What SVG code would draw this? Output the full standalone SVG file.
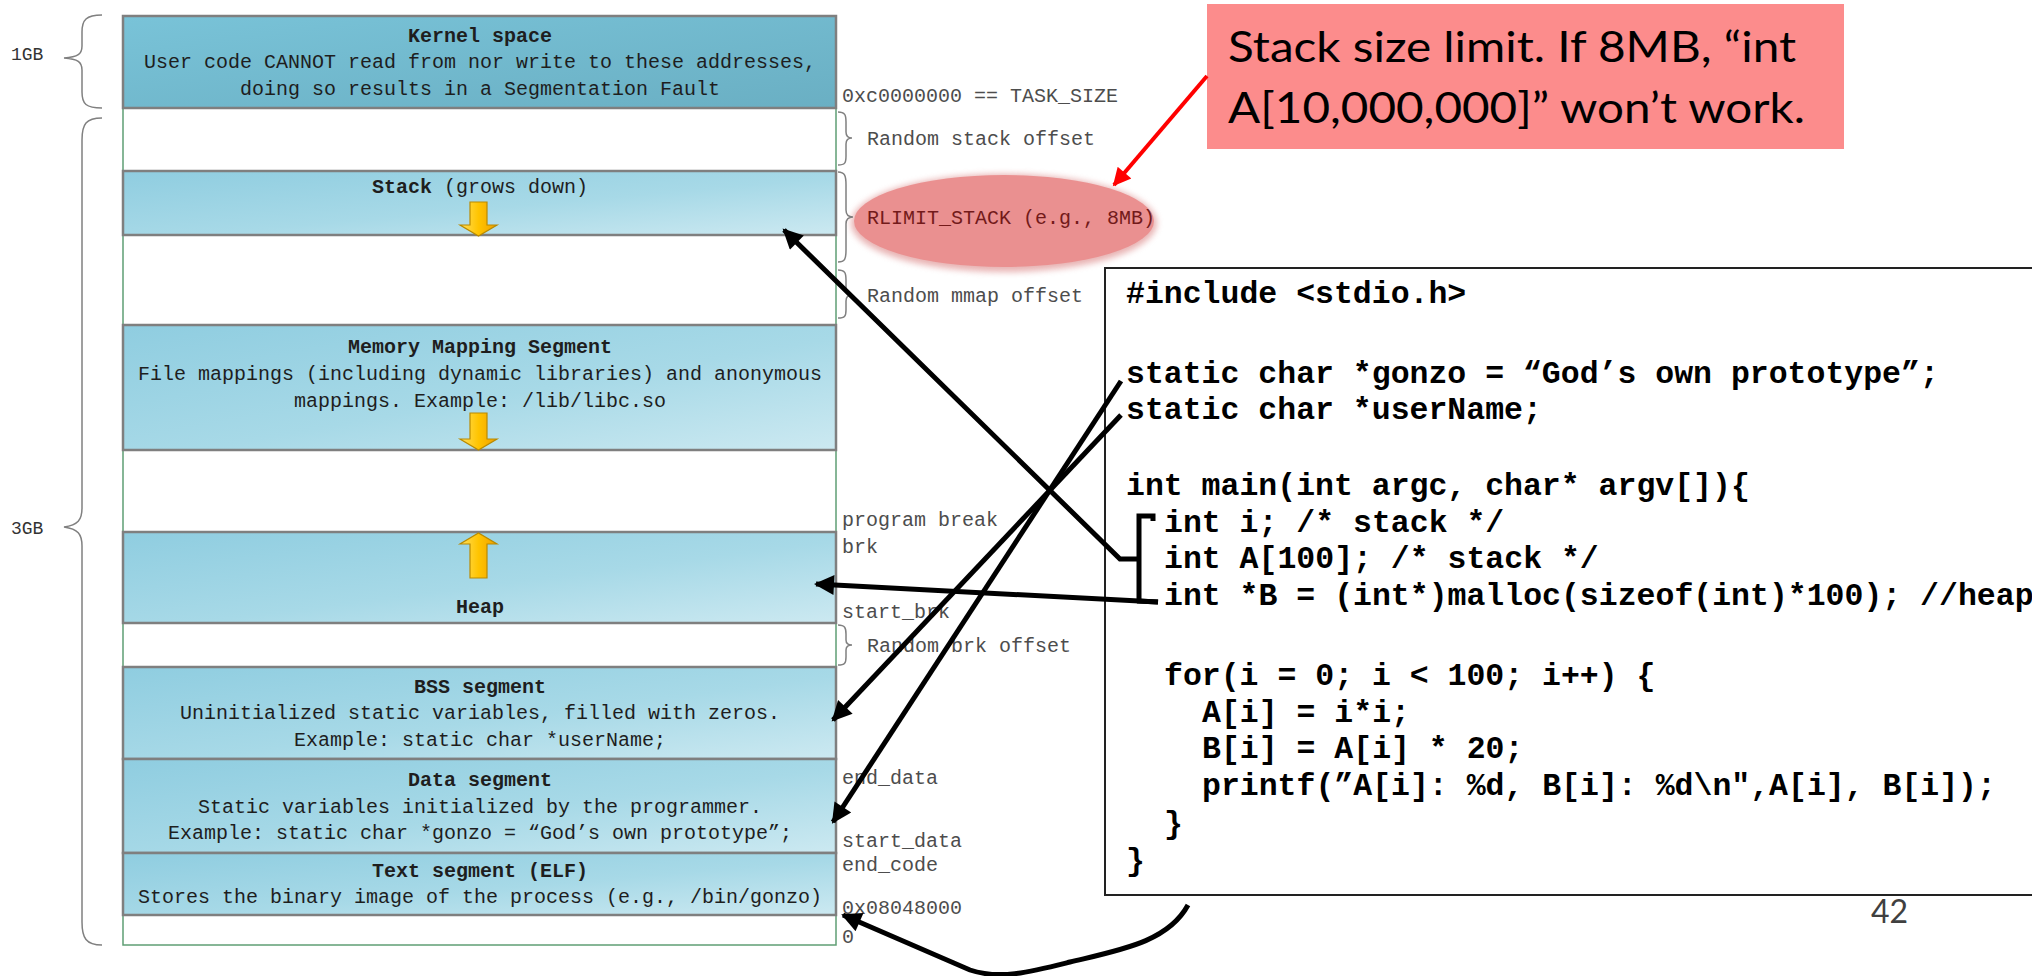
<svg xmlns="http://www.w3.org/2000/svg" width="2032" height="976" viewBox="0 0 2032 976">
<style>
.seg{stroke:#7f7f7f;stroke-width:2.5}
.t{font-family:"Liberation Mono",monospace;font-size:20px;fill:#1e1e1e;text-anchor:middle}
.b{font-weight:bold}
.lbl{font-family:"Liberation Mono",monospace;font-size:20px;fill:#4d4d4d}
.br{fill:none;stroke:#808080;stroke-width:1.5}
.code{font-family:"Liberation Mono",monospace;font-size:31.5px;font-weight:bold;fill:#000}
.con{fill:none;stroke:#000;stroke-width:5}
.ya{fill:url(#yel);stroke:#b98a00;stroke-width:1.2}
</style>
<defs>
<linearGradient id="seg" x1="0" y1="0" x2="1" y2="1">
<stop offset="0" stop-color="#8fcde0"/>
<stop offset="0.55" stop-color="#a7d9e7"/>
<stop offset="1" stop-color="#cce9f1"/>
</linearGradient>
<linearGradient id="ker" x1="0" y1="0" x2="1" y2="1">
<stop offset="0" stop-color="#79c3d8"/>
<stop offset="1" stop-color="#6aafc3"/>
</linearGradient>
<linearGradient id="yel" x1="0" y1="0" x2="1" y2="0">
<stop offset="0" stop-color="#ffe060"/>
<stop offset="0.5" stop-color="#ffc400"/>
<stop offset="1" stop-color="#f0a000"/>
</linearGradient>
<filter id="soft" x="-10%" y="-20%" width="120%" height="140%">
<feGaussianBlur stdDeviation="3"/>
</filter>
<marker id="ah" markerUnits="userSpaceOnUse" markerWidth="24" markerHeight="20" viewBox="0 0 10 10" refX="9" refY="5" orient="auto">
<path d="M0,0 L10,5 L0,10 z" fill="#000"/>
</marker>
<marker id="ahr" markerUnits="userSpaceOnUse" markerWidth="20" markerHeight="18" viewBox="0 0 10 10" refX="9" refY="5" orient="auto">
<path d="M0,0 L10,5 L0,10 z" fill="#f00"/>
</marker>
</defs>
<rect width="2032" height="976" fill="#fff"/>

<g id="braces-left">
<path class="br" d="M102,15 C86,15 82,20 82,32 L82,46 C82,54 78,57 64,58 C78,59 82,62 82,70 L82,92 C82,104 86,108 102,108"/>
<text x="11" y="60" font-family="Liberation Mono,monospace" font-size="18" fill="#333">1GB</text>
<path class="br" d="M102,118 C86,118 82,124 82,140 L82,508 C82,520 78,525 64,527 C78,529 82,534 82,546 L82,922 C82,938 86,945 102,945"/>
<text x="11" y="534" font-family="Liberation Mono,monospace" font-size="18" fill="#333">3GB</text>
</g>

<g id="gaps">
<rect x="123" y="108" width="713" height="837" fill="#fff" stroke="#5f9e74" stroke-width="1.5"/>
</g>

<g id="kernel">
<rect class="seg" x="123" y="16" width="713" height="92" fill="url(#ker)"/>
<text class="t b" x="480" y="42">Kernel space</text>
<text class="t" x="480" y="68">User code CANNOT read from nor write to these addresses,</text>
<text class="t" x="480" y="95">doing so results in a Segmentation Fault</text>
</g>

<g id="stack">
<rect class="seg" x="123" y="171" width="713" height="64" fill="url(#seg)"/>
<text class="t" x="480" y="193"><tspan class="b">Stack</tspan> (grows down)</text>
<path class="ya" d="M470,202 L487,202 L487,225 L497,225 L478.5,236 L460,225 L470,225 z"/>
</g>

<g id="mmap">
<rect class="seg" x="123" y="325" width="713" height="125" fill="url(#seg)"/>
<text class="t b" x="480" y="353">Memory Mapping Segment</text>
<text class="t" x="480" y="380">File mappings (including dynamic libraries) and anonymous</text>
<text class="t" x="480" y="407">mappings. Example: /lib/libc.so</text>
<path class="ya" d="M470,413 L487,413 L487,439 L497,439 L478.5,450 L460,439 L470,439 z"/>
</g>

<g id="heap">
<rect class="seg" x="123" y="532" width="713" height="91" fill="url(#seg)"/>
<path class="ya" d="M470,578 L487,578 L487,544 L497,544 L478.5,533 L460,544 L470,544 z"/>
<text class="t b" x="480" y="613">Heap</text>
</g>

<g id="bss">
<rect class="seg" x="123" y="667" width="713" height="92" fill="url(#seg)"/>
<text class="t b" x="480" y="693">BSS segment</text>
<text class="t" x="480" y="719">Uninitialized static variables, filled with zeros.</text>
<text class="t" x="480" y="746">Example: static char *userName;</text>
</g>

<g id="data">
<rect class="seg" x="123" y="759" width="713" height="94" fill="url(#seg)"/>
<text class="t b" x="480" y="786">Data segment</text>
<text class="t" x="480" y="813">Static variables initialized by the programmer.</text>
<text class="t" x="480" y="839">Example: static char *gonzo = “God’s own prototype”;</text>
</g>

<g id="text-seg">
<rect class="seg" x="123" y="853" width="713" height="62" fill="url(#seg)"/>
<text class="t b" x="480" y="877">Text segment (ELF)</text>
<text class="t" x="480" y="903">Stores the binary image of the process (e.g., /bin/gonzo)</text>
</g>

<g id="rlimit">
<ellipse cx="1004" cy="223" rx="153" ry="49" fill="#d98080" opacity="0.6" filter="url(#soft)"/>
<ellipse cx="1004" cy="221" rx="150" ry="46" fill="#ea9090"/>
</g>

<g id="labels-right">
<path class="br" d="M838,112 C845,112 846,115 846,122 L846,132 C846,136 848,138 852,138 C848,138 846,140 846,144 L846,156 C846,163 845,165 838,165"/>
<path class="br" d="M838,172 C845,172 846,176 846,185 L846,210 C846,215 848,217 853,217 C848,217 846,219 846,224 L846,250 C846,259 845,262 838,262"/>
<path class="br" d="M838,270 C845,270 846,273 846,280 L846,289 C846,293 848,295 852,295 C848,295 846,297 846,301 L846,310 C846,316 845,318 838,318"/>
<path class="br" d="M838,625 C845,625 846,628 846,634 L846,640 C846,643 848,645 852,645 C848,645 846,647 846,650 L846,657 C846,663 845,665 838,665"/>
<text class="lbl" x="842" y="102">0xc0000000 == TASK_SIZE</text>
<text class="lbl" x="867" y="145">Random stack offset</text>
<text class="lbl" x="867" y="224" style="fill:#731a1a">RLIMIT_STACK (e.g., 8MB)</text>
<text class="lbl" x="867" y="302">Random mmap offset</text>
<text class="lbl" x="842" y="526">program break</text>
<text class="lbl" x="842" y="553">brk</text>
<text class="lbl" x="842" y="618">start_brk</text>
<text class="lbl" x="867" y="652">Random brk offset</text>
<text class="lbl" x="842" y="784">end_data</text>
<text class="lbl" x="842" y="847">start_data</text>
<text class="lbl" x="842" y="871">end_code</text>
<text class="lbl" x="842" y="914">0x08048000</text>
<text class="lbl" x="842" y="943">0</text>
</g>

<g id="callout">
<rect x="1207" y="4" width="637" height="145" fill="#fc8c8c"/>
<text x="1228" y="62" font-family="Lato,'Open Sans',sans-serif" font-size="42" fill="#000" textLength="568" lengthAdjust="spacingAndGlyphs">Stack size limit. If 8MB, “int</text>
<text x="1228" y="123" font-family="Lato,'Open Sans',sans-serif" font-size="42" fill="#000" textLength="577" lengthAdjust="spacingAndGlyphs">A[10,000,000]” won’t work.</text>
</g>

<g id="code">
<path d="M2032,268 L1105,268 L1105,895 L2032,895" fill="#fff" stroke="#222" stroke-width="2"/>
<text class="code" x="1126" y="303">#include &lt;stdio.h&gt;</text>
<text class="code" x="1126" y="383">static char *gonzo = “God’s own prototype”;</text>
<text class="code" x="1126" y="419">static char *userName;</text>
<text class="code" x="1126" y="495">int main(int argc, char* argv[]){</text>
<text class="code" x="1164" y="532">int i; /* stack */</text>
<text class="code" x="1164" y="568">int A[100]; /* stack */</text>
<text class="code" x="1164" y="605">int *B = (int*)malloc(sizeof(int)*100); //heap</text>
<text class="code" x="1164" y="685">for(i = 0; i &lt; 100; i++) {</text>
<text class="code" x="1202" y="722">A[i] = i*i;</text>
<text class="code" x="1202" y="758">B[i] = A[i] * 20;</text>
<text class="code" x="1202" y="795">printf(”A[i]: %d, B[i]: %d\n",A[i], B[i]);</text>
<text class="code" x="1164" y="833">}</text>
<text class="code" x="1126" y="870">}</text>
</g>

<g id="page-number">
<text x="1871" y="923" font-family="Lato,'Open Sans',sans-serif" font-size="32" fill="#404040">42</text>
</g>

<g id="connectors">
<line x1="1207" y1="76" x2="1114" y2="185" stroke="#f00" stroke-width="4" marker-end="url(#ahr)"/>
<path d="M1153,521 L1153,516 L1139,516 L1139,601" fill="none" stroke="#000" stroke-width="5"/>
<polyline class="con" points="1139,559 1120,559 784,230" marker-end="url(#ah)"/>
<line class="con" x1="1158" y1="602" x2="816" y2="584" stroke-width="6" marker-end="url(#ah)"/>
<line class="con" x1="1137" y1="601" x2="1158" y2="602" stroke-width="6"/>
<line class="con" x1="1121" y1="415" x2="833" y2="720" marker-end="url(#ah)"/>
<line class="con" x1="1121" y1="381" x2="833" y2="822" marker-end="url(#ah)"/>
<path class="con" d="M1188,905 C1168,942 1120,950 1070,962 C1030,972 1000,980 970,970 L843,915" stroke-width="6" marker-end="url(#ah)"/>
</g>
</svg>
